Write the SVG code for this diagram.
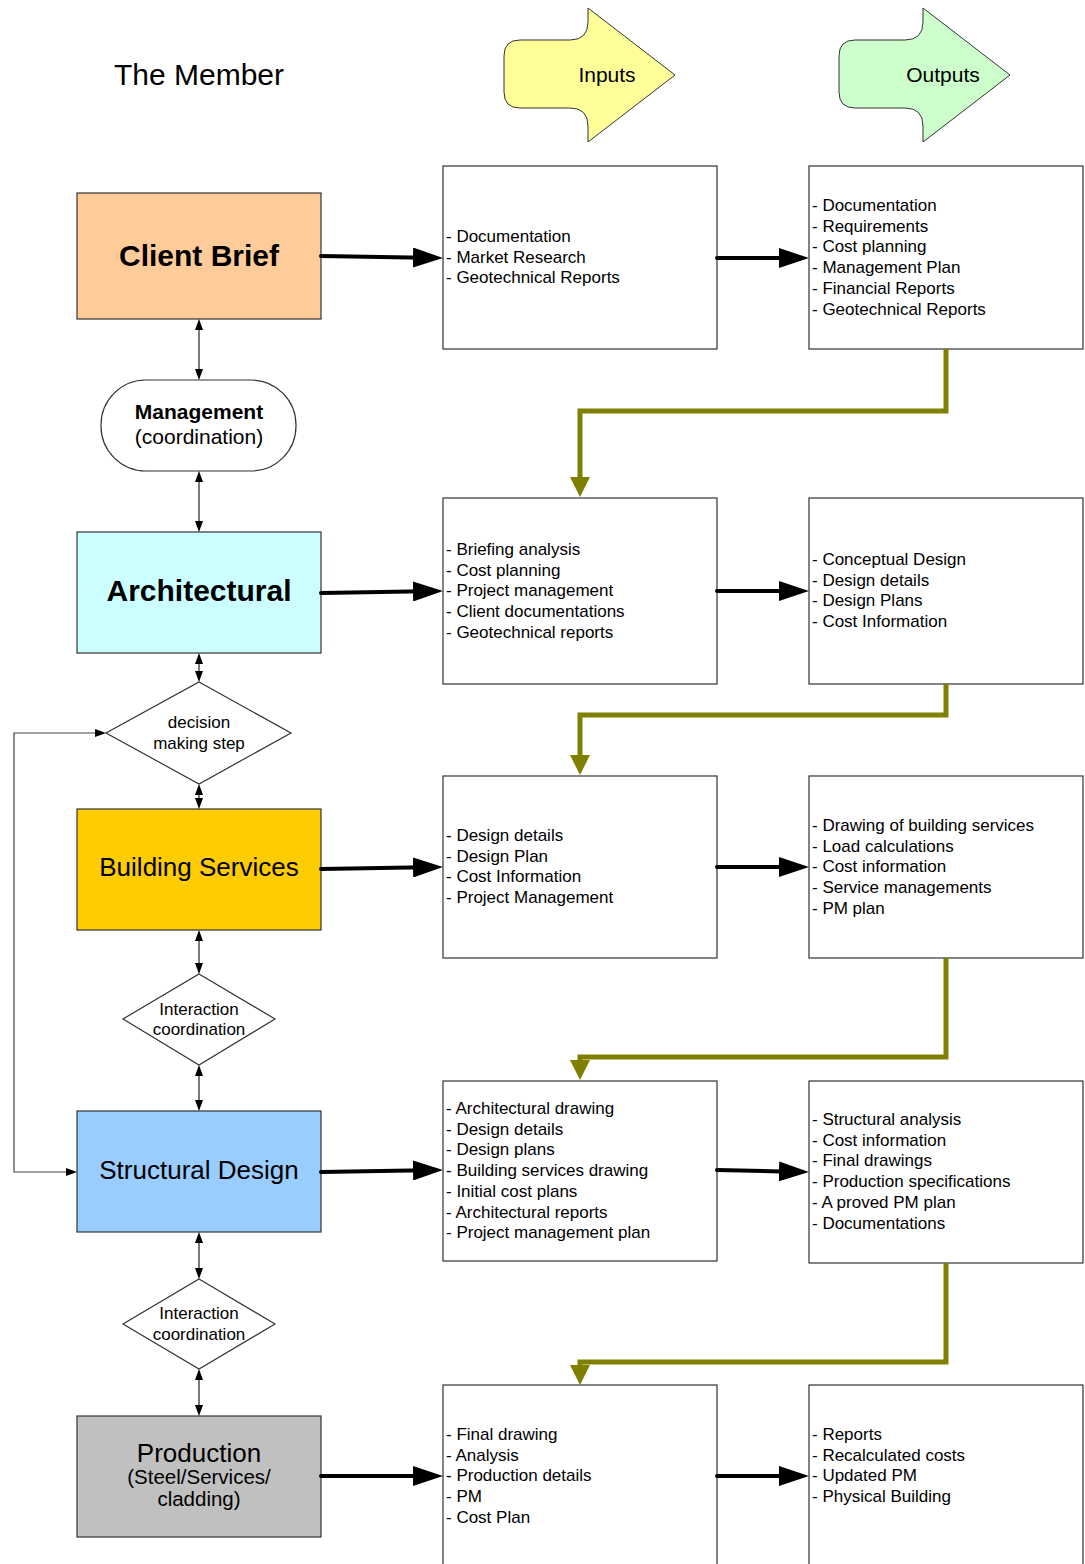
<svg xmlns="http://www.w3.org/2000/svg" width="1085" height="1564" viewBox="0 0 1085 1564">
<style>
text{font-family:"Liberation Sans",Arial,sans-serif;fill:#000}
.box{fill:#fff;stroke:#333;stroke-width:1.2}
.node{stroke:#333;stroke-width:1.2}
.lst{font-size:17px}
.thick{stroke:#000;stroke-width:4;fill:none;stroke-linecap:round}
.olive{stroke:#808000;stroke-width:5;fill:none}
.thin{stroke:#222;stroke-width:1.2;fill:none}
.feed{stroke:#444;stroke-width:1.2;fill:none}
</style>
<defs>
<marker id="big" viewBox="0 0 30 20" markerWidth="30" markerHeight="20" refX="12" refY="10" orient="auto" markerUnits="userSpaceOnUse"><path d="M0,0 L30,10 L0,20 Z" fill="#000"/></marker>
<marker id="ol" viewBox="0 0 20 20" markerWidth="20" markerHeight="20" refX="2" refY="10" orient="auto" markerUnits="userSpaceOnUse"><path d="M0,0 L20,10 L0,20 Z" fill="#808000"/></marker>
<marker id="sm" viewBox="0 0 11 8" markerWidth="11" markerHeight="8" refX="3" refY="4" orient="auto-start-reverse" markerUnits="userSpaceOnUse"><path d="M0,0 L11,4 L0,8 Z" fill="#000"/></marker>
</defs>

<g id="title"><text x="199" y="85" font-size="30" text-anchor="middle">The Member</text></g>

<g id="inputs-header">
<path d="M520,40 L570,40 Q588,40 588,22 L588,8 L675,75 L588,142 L588,126 Q588,108 570,108 L520,108 Q504,108 504,92 L504,56 Q504,40 520,40 Z" fill="#FFFF99" stroke="#333" stroke-width="1"/>
<text x="607" y="82" font-size="21" text-anchor="middle">Inputs</text>
</g>
<g id="outputs-header">
<path d="M855,40 L905,40 Q923,40 923,22 L923,8 L1010,75 L923,142 L923,126 Q923,108 905,108 L855,108 Q839,108 839,92 L839,56 Q839,40 855,40 Z" fill="#CCFFCC" stroke="#333" stroke-width="1"/>
<text x="943" y="82" font-size="21" text-anchor="middle">Outputs</text>
</g>

<g id="client-brief"><rect class="node" x="77" y="193" width="244" height="126" fill="#FFCC99"/><text x="199" y="266" font-size="30" font-weight="bold" text-anchor="middle">Client Brief</text></g>
<g id="management"><rect class="node" x="101" y="380" width="195" height="91" rx="45" fill="#fff"/><text x="199" y="419" font-size="21" font-weight="bold" text-anchor="middle">Management</text><text x="199" y="444" font-size="21" text-anchor="middle">(coordination)</text></g>
<g id="architectural"><rect class="node" x="77" y="532" width="244" height="121" fill="#CCFFFF"/><text x="199" y="601" font-size="30" font-weight="bold" text-anchor="middle">Architectural</text></g>
<g id="decision"><polygon class="node" points="199,682 291,733 199,784 106,733" fill="#fff"/><text x="199" y="728" font-size="17" text-anchor="middle">decision</text><text x="199" y="749" font-size="17" text-anchor="middle">making step</text></g>
<g id="building-services"><rect class="node" x="77" y="809" width="244" height="121" fill="#FFCC00"/><text x="199" y="876" font-size="26" text-anchor="middle">Building Services</text></g>
<g id="interaction-1"><polygon class="node" points="199,974 275,1019 199,1065 123,1019" fill="#fff"/><text x="199" y="1015" font-size="17" text-anchor="middle">Interaction</text><text x="199" y="1035" font-size="17" text-anchor="middle">coordination</text></g>
<g id="structural-design"><rect class="node" x="77" y="1111" width="244" height="121" fill="#99CCFF"/><text x="199" y="1179" font-size="26" text-anchor="middle">Structural Design</text></g>
<g id="interaction-2"><polygon class="node" points="199,1279 275,1324 199,1369 123,1324" fill="#fff"/><text x="199" y="1319" font-size="17" text-anchor="middle">Interaction</text><text x="199" y="1340" font-size="17" text-anchor="middle">coordination</text></g>
<g id="production"><rect class="node" x="77" y="1416" width="244" height="121" fill="#C0C0C0"/><text x="199" y="1462" font-size="26" text-anchor="middle">Production</text><text x="199" y="1484" font-size="20.5" text-anchor="middle">(Steel/Services/</text><text x="199" y="1506" font-size="20.5" text-anchor="middle">cladding)</text></g>

<g id="in-1"><rect class="box" x="443" y="166" width="274" height="183"/><text class="lst" x="446" y="242">- Documentation<tspan x="446" dy="20.7">- Market Research</tspan><tspan x="446" dy="20.7">- Geotechnical Reports</tspan></text></g>
<g id="out-1"><rect class="box" x="809" y="166" width="274" height="183"/><text class="lst" x="812" y="211">- Documentation<tspan x="812" dy="20.7">- Requirements</tspan><tspan x="812" dy="20.7">- Cost planning</tspan><tspan x="812" dy="20.7">- Management Plan</tspan><tspan x="812" dy="20.7">- Financial Reports</tspan><tspan x="812" dy="20.7">- Geotechnical Reports</tspan></text></g>

<g id="in-2"><rect class="box" x="443" y="498" width="274" height="186"/><text class="lst" x="446" y="555">- Briefing analysis<tspan x="446" dy="20.7">- Cost planning</tspan><tspan x="446" dy="20.7">- Project management</tspan><tspan x="446" dy="20.7">- Client documentations</tspan><tspan x="446" dy="20.7">- Geotechnical reports</tspan></text></g>
<g id="out-2"><rect class="box" x="809" y="498" width="274" height="186"/><text class="lst" x="812" y="565">- Conceptual Design<tspan x="812" dy="20.7">- Design details</tspan><tspan x="812" dy="20.7">- Design Plans</tspan><tspan x="812" dy="20.7">- Cost Information</tspan></text></g>

<g id="in-3"><rect class="box" x="443" y="776" width="274" height="182"/><text class="lst" x="446" y="841">- Design details<tspan x="446" dy="20.7">- Design Plan</tspan><tspan x="446" dy="20.7">- Cost Information</tspan><tspan x="446" dy="20.7">- Project Management</tspan></text></g>
<g id="out-3"><rect class="box" x="809" y="776" width="274" height="182"/><text class="lst" x="812" y="831">- Drawing of building services<tspan x="812" dy="20.7">- Load calculations</tspan><tspan x="812" dy="20.7">- Cost information</tspan><tspan x="812" dy="20.7">- Service managements</tspan><tspan x="812" dy="20.7">- PM plan</tspan></text></g>

<g id="in-4"><rect class="box" x="443" y="1081" width="274" height="180"/><text class="lst" x="446" y="1114">- Architectural drawing<tspan x="446" dy="20.7">- Design details</tspan><tspan x="446" dy="20.7">- Design plans</tspan><tspan x="446" dy="20.7">- Building services drawing</tspan><tspan x="446" dy="20.7">- Initial cost plans</tspan><tspan x="446" dy="20.7">- Architectural reports</tspan><tspan x="446" dy="20.7">- Project management plan</tspan></text></g>
<g id="out-4"><rect class="box" x="809" y="1081" width="274" height="182"/><text class="lst" x="812" y="1125">- Structural analysis<tspan x="812" dy="20.7">- Cost information</tspan><tspan x="812" dy="20.7">- Final drawings</tspan><tspan x="812" dy="20.7">- Production specifications</tspan><tspan x="812" dy="20.7">- A proved PM plan</tspan><tspan x="812" dy="20.7">- Documentations</tspan></text></g>

<g id="in-5"><rect class="box" x="443" y="1385" width="274" height="200"/><text class="lst" x="446" y="1440">- Final drawing<tspan x="446" dy="20.7">- Analysis</tspan><tspan x="446" dy="20.7">- Production details</tspan><tspan x="446" dy="20.7">- PM</tspan><tspan x="446" dy="20.7">- Cost Plan</tspan></text></g>
<g id="out-5"><rect class="box" x="809" y="1385" width="274" height="200"/><text class="lst" x="812" y="1440">- Reports<tspan x="812" dy="20.7">- Recalculated costs</tspan><tspan x="812" dy="20.7">- Updated PM</tspan><tspan x="812" dy="20.7">- Physical Building</tspan></text></g>

<g id="connectors">
<path class="thick" d="M321,256 L425,257.7" marker-end="url(#big)"/>
<path class="thick" d="M717,258 L791,258" marker-end="url(#big)"/>
<path class="thick" d="M321,593 L425,591.3" marker-end="url(#big)"/>
<path class="thick" d="M717,591 L791,591" marker-end="url(#big)"/>
<path class="thick" d="M321,869 L425,867.3" marker-end="url(#big)"/>
<path class="thick" d="M717,867 L791,867" marker-end="url(#big)"/>
<path class="thick" d="M321,1172 L425,1170.3" marker-end="url(#big)"/>
<path class="thick" d="M717,1170 L791,1171.7" marker-end="url(#big)"/>
<path class="thick" d="M321,1476 L425,1476" marker-end="url(#big)"/>
<path class="thick" d="M717,1476 L791,1476" marker-end="url(#big)"/>

<path class="olive" d="M946,349 V411 H580 V479" marker-end="url(#ol)"/>
<path class="olive" d="M946,684 V715 H580 V757" marker-end="url(#ol)"/>
<path class="olive" d="M946,958 V1057 H580 V1062" marker-end="url(#ol)"/>
<path class="olive" d="M946,1263 V1362 H580 V1367" marker-end="url(#ol)"/>

<path class="thin" d="M199,327 V372" marker-start="url(#sm)" marker-end="url(#sm)"/>
<path class="thin" d="M199,479 V524" marker-start="url(#sm)" marker-end="url(#sm)"/>
<path class="thin" d="M199,661 V674" marker-start="url(#sm)" marker-end="url(#sm)"/>
<path class="thin" d="M199,792 V801" marker-start="url(#sm)" marker-end="url(#sm)"/>
<path class="thin" d="M199,938 V966" marker-start="url(#sm)" marker-end="url(#sm)"/>
<path class="thin" d="M199,1073 V1103" marker-start="url(#sm)" marker-end="url(#sm)"/>
<path class="thin" d="M199,1240 V1271" marker-start="url(#sm)" marker-end="url(#sm)"/>
<path class="thin" d="M199,1377 V1408" marker-start="url(#sm)" marker-end="url(#sm)"/>

<path class="feed" d="M98,733 H14 V1172 H69" marker-start="url(#sm)" marker-end="url(#sm)"/>
</g>
</svg>
